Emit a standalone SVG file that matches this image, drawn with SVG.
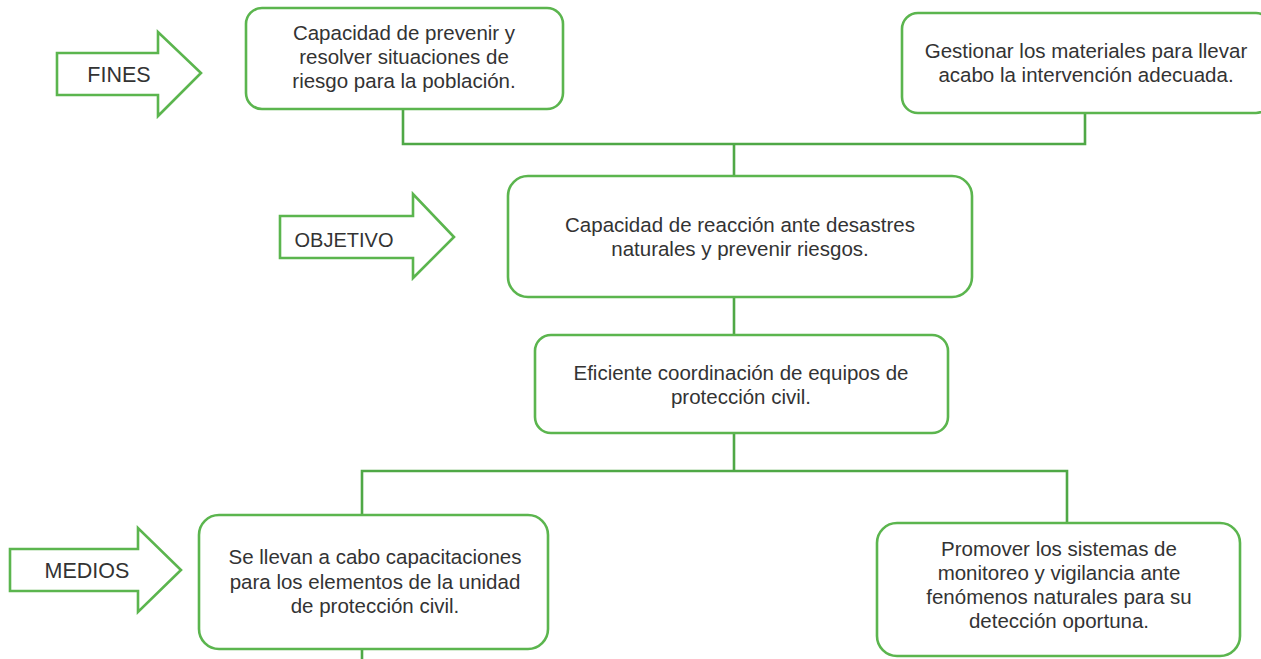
<svg xmlns="http://www.w3.org/2000/svg" width="1261" height="659" viewBox="0 0 1261 659">
<style>
.bg{fill:#ffffff}
.box{fill:#ffffff;stroke:#5bb54e;stroke-width:2.6}
.arrow{fill:#ffffff;stroke:#5bb54e;stroke-width:2.6;stroke-linejoin:miter}
.line{fill:none;stroke:#4fa846;stroke-width:2.6}
text{font-family:"Liberation Sans",Arial,sans-serif;fill:#333333;text-anchor:middle}
.t{font-size:20.5px}
.lab{font-size:21.5px}
.lab2{font-size:20px}
</style>
<rect class="bg" x="0" y="0" width="1261" height="659"/>
<g id="connectors">
<polyline class="line" points="403,109 403,144 1085,144 1085,113"/>
<line class="line" x1="734" y1="144" x2="734" y2="176"/>
<line class="line" x1="734" y1="297" x2="734" y2="335"/>
<line class="line" x1="734" y1="433" x2="734" y2="471"/>
<polyline class="line" points="362,515 362,471 1067,471 1067,523"/>
<line class="line" x1="362" y1="649" x2="362" y2="659"/>
</g>
<g id="arrow-fines">
<polygon class="arrow" points="57,53 158,53 158,32 201,73 158,116 158,95 57,95"/>
<text class="lab" x="119" y="82">FINES</text>
</g>
<g id="arrow-objetivo">
<polygon class="arrow" points="280,216 413,216 413,194 454,237 413,278 413,258 280,258"/>
<text class="lab2" x="344" y="247">OBJETIVO</text>
</g>
<g id="arrow-medios">
<polygon class="arrow" points="10,549 138,549 138,528 181,570 138,612 138,591 10,591"/>
<text class="lab" x="87" y="578">MEDIOS</text>
</g>
<g id="fin1">
<rect class="box" x="246" y="8" width="317" height="101" rx="16"/>
<text class="t" x="404" y="40">Capacidad de prevenir y</text>
<text class="t" x="404" y="64">resolver situaciones de</text>
<text class="t" x="404" y="88">riesgo para la población.</text>
</g>
<g id="fin2">
<rect class="box" x="902" y="13" width="370" height="100" rx="16"/>
<text class="t" x="1086" y="58">Gestionar los materiales para llevar</text>
<text class="t" x="1086" y="82">acabo la intervención adecuada.</text>
</g>
<g id="objetivo">
<rect class="box" x="508" y="176" width="464" height="121" rx="20"/>
<text class="t" x="740" y="232">Capacidad de reacción ante desastres</text>
<text class="t" x="740" y="256">naturales y prevenir riesgos.</text>
</g>
<g id="coordinacion">
<rect class="box" x="535" y="335" width="413" height="98" rx="16"/>
<text class="t" x="741" y="380">Eficiente coordinación de equipos de</text>
<text class="t" x="741" y="404">protección civil.</text>
</g>
<g id="medio1">
<rect class="box" x="199" y="515" width="349" height="134" rx="20"/>
<text class="t" x="375" y="564">Se llevan a cabo capacitaciones</text>
<text class="t" x="375" y="589">para los elementos de la unidad</text>
<text class="t" x="375" y="613">de protección civil.</text>
</g>
<g id="medio2">
<rect class="box" x="877" y="523" width="363" height="133" rx="20"/>
<text class="t" x="1059" y="556">Promover los sistemas de</text>
<text class="t" x="1059" y="580">monitoreo y vigilancia ante</text>
<text class="t" x="1059" y="604">fenómenos naturales para su</text>
<text class="t" x="1059" y="628">detección oportuna.</text>
</g>
</svg>
